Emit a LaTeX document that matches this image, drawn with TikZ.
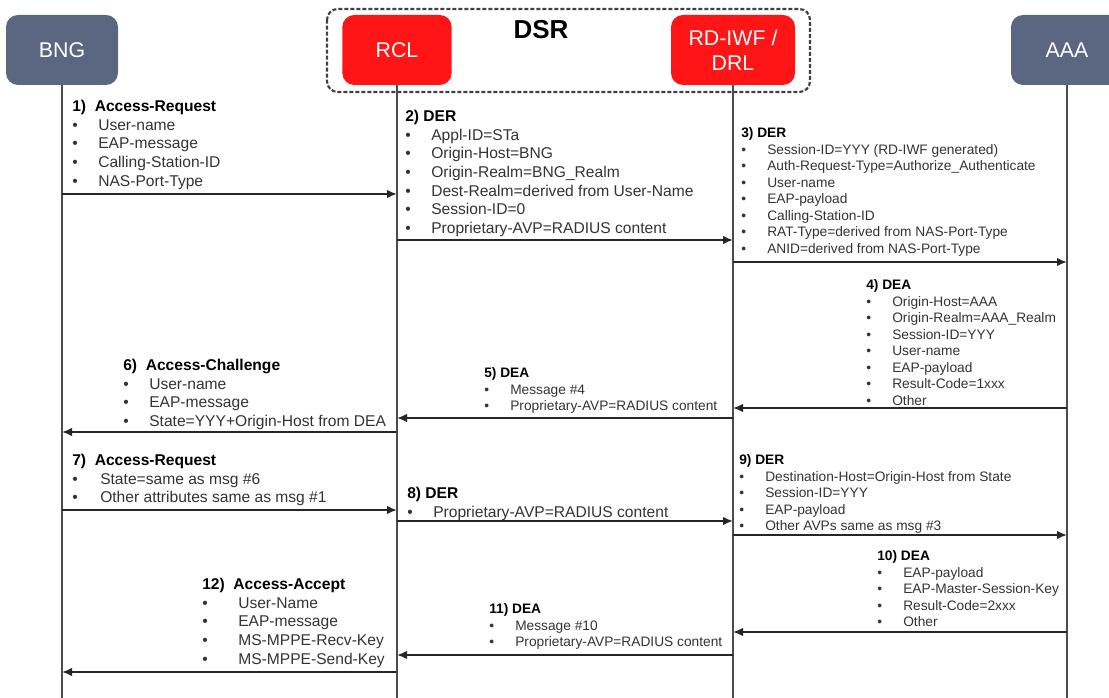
\documentclass[tikz,border=0pt]{standalone}
\usepackage{fontspec}
\setmainfont{Liberation Sans}
\usetikzlibrary{arrows.meta}
\definecolor{nodegray}{HTML}{5B6780}
\definecolor{dsrred}{HTML}{FF1515}
\newcommand{\msgitem}[2][19.5pt]{\makebox[#1][l]{\textbullet}#2}

\begin{document}
\begin{tikzpicture}[x=0.75pt, y=-0.75pt,
    entity/.style={rounded corners=9pt, minimum height=52.5pt, inner sep=0,
        text=white, align=center, font=\fontsize{16}{19}\selectfont},
    lifeline/.style={draw=black!70, line width=1pt},
    msg/.style={draw=black!85, line width=1.4pt, -{Latex[length=7.5pt,width=6.5pt]}},
    bigtext/.style={anchor=north west, inner sep=0, align=left, text=black!80,
        font=\fontsize{11.7}{14}\selectfont},
    smalltext/.style={anchor=north west, inner sep=0, align=left, text=black!80,
        font=\fontsize{10.3}{12.4}\selectfont}]
    \useasboundingbox (0,0) rectangle (1109,698);
    \clip (0,0) rectangle (1109,698);

    % DSR frame
    \draw[black!75, line width=1.6pt, dash pattern=on 3pt off 1.5pt, rounded corners=8pt]
        (327,9) rectangle (810,92);
    \node[font=\bfseries\fontsize{19.5}{22}\selectfont] (dsr) at (541,30) {DSR};

    % Entities
    \node[entity, fill=nodegray, minimum width=84pt] (bng) at (62,50) {BNG};
    \node[entity, fill=dsrred, minimum width=82pt] (rcl) at (397,50) {RCL};
    \node[entity, fill=dsrred, minimum width=93pt] (drl) at (733,50) {RD-IWF /\\DRL};
    \node[entity, fill=nodegray, minimum width=84pt] (aaa) at (1067,50) {AAA};

    % Lifelines
    \coordinate (bottom) at (0,698);
    \draw[lifeline] (bng) -- (bng |- bottom);
    \draw[lifeline] (rcl) -- (rcl |- bottom);
    \draw[lifeline] (drl) -- (drl |- bottom);
    \draw[lifeline] (aaa) -- (aaa |- bottom);

    % 1) Access-Request
    \node[bigtext] (m1) at (72,100) {{\color{black}\bfseries 1)~~Access-Request}\\
        \msgitem{User-name}\\ \msgitem{EAP-message}\\
        \msgitem{Calling-Station-ID}\\ \msgitem{NAS-Port-Type}};
    \draw[msg] (bng |- 0,194) -- (rcl |- 0,194);

    % 2) DER
    \node[bigtext] (m2) at (405,110) {{\color{black}\bfseries 2) DER}\\
        \msgitem{Appl-ID=STa}\\ \msgitem{Origin-Host=BNG}\\
        \msgitem{Origin-Realm=BNG\_Realm}\\ \msgitem{Dest-Realm=derived from User-Name}\\
        \msgitem{Session-ID=0}\\ \msgitem{Proprietary-AVP=RADIUS content}};
    \draw[msg] (rcl |- 0,240) -- (drl |- 0,240);

    % 3) DER
    \node[smalltext] (m3) at (741,127.5) {{\color{black}\bfseries 3) DER}\\
        \msgitem{Session-ID=YYY (RD-IWF generated)}\\
        \msgitem{Auth-Request-Type=Authorize\_Authenticate}\\
        \msgitem{User-name}\\ \msgitem{EAP-payload}\\ \msgitem{Calling-Station-ID}\\
        \msgitem{RAT-Type=derived from NAS-Port-Type}\\
        \msgitem{ANID=derived from NAS-Port-Type}};
    \draw[msg] (drl |- 0,262) -- (aaa |- 0,262);

    % 4) DEA
    \node[smalltext] (m4) at (866,279.5) {{\color{black}\bfseries 4) DEA}\\
        \msgitem{Origin-Host=AAA}\\ \msgitem{Origin-Realm=AAA\_Realm}\\
        \msgitem{Session-ID=YYY}\\ \msgitem{User-name}\\ \msgitem{EAP-payload}\\
        \msgitem{Result-Code=1xxx}\\ \msgitem{Other}};
    \draw[msg] (aaa |- 0,408) -- (drl |- 0,408);

    % 5) DEA
    \node[smalltext] (m5) at (484,367.5) {{\color{black}\bfseries 5) DEA}\\
        \msgitem{Message \#4}\\ \msgitem{Proprietary-AVP=RADIUS content}};
    \draw[msg] (drl |- 0,418) -- (rcl |- 0,418);

    % 6) Access-Challenge
    \node[bigtext] (m6) at (123,359) {{\color{black}\bfseries 6)~~Access-Challenge}\\
        \msgitem{User-name}\\ \msgitem{EAP-message}\\
        \msgitem{State=YYY+Origin-Host from DEA}};
    \draw[msg] (rcl |- 0,432) -- (bng |- 0,432);

    % 7) Access-Request
    \node[bigtext] (m7) at (72,454) {{\color{black}\bfseries 7)~~Access-Request}\\
        \msgitem[21pt]{State=same as msg \#6}\\
        \msgitem[21pt]{Other attributes same as msg \#1}};
    \draw[msg] (bng |- 0,510) -- (rcl |- 0,510);

    % 8) DER
    \node[bigtext] (m8) at (407,487) {{\color{black}\bfseries 8) DER}\\
        \msgitem{Proprietary-AVP=RADIUS content}};
    \draw[msg] (rcl |- 0,521) -- (drl |- 0,521);

    % 9) DER
    \node[smalltext] (m9) at (739,454.5) {{\color{black}\bfseries 9) DER}\\
        \msgitem{Destination-Host=Origin-Host from State}\\ \msgitem{Session-ID=YYY}\\
        \msgitem{EAP-payload}\\ \msgitem{Other AVPs same as msg \#3}};
    \draw[msg] (drl |- 0,535) -- (aaa |- 0,535);

    % 10) DEA
    \node[smalltext] (m10) at (877,550.5) {{\color{black}\bfseries 10) DEA}\\
        \msgitem{EAP-payload}\\ \msgitem{EAP-Master-Session-Key}\\
        \msgitem{Result-Code=2xxx}\\ \msgitem{Other}};
    \draw[msg] (aaa |- 0,632) -- (drl |- 0,632);

    % 11) DEA
    \node[smalltext] (m11) at (489,603.5) {{\color{black}\bfseries 11) DEA}\\
        \msgitem{Message \#10}\\ \msgitem{Proprietary-AVP=RADIUS content}};
    \draw[msg] (drl |- 0,655) -- (rcl |- 0,655);

    % 12) Access-Accept
    \node[bigtext] (m12) at (202,578) {{\color{black}\bfseries 12)~~Access-Accept}\\
        \msgitem[27pt]{User-Name}\\ \msgitem[27pt]{EAP-message}\\
        \msgitem[27pt]{MS-MPPE-Recv-Key}\\ \msgitem[27pt]{MS-MPPE-Send-Key}};
    \draw[msg] (rcl |- 0,672) -- (bng |- 0,672);
\end{tikzpicture}
\end{document}
